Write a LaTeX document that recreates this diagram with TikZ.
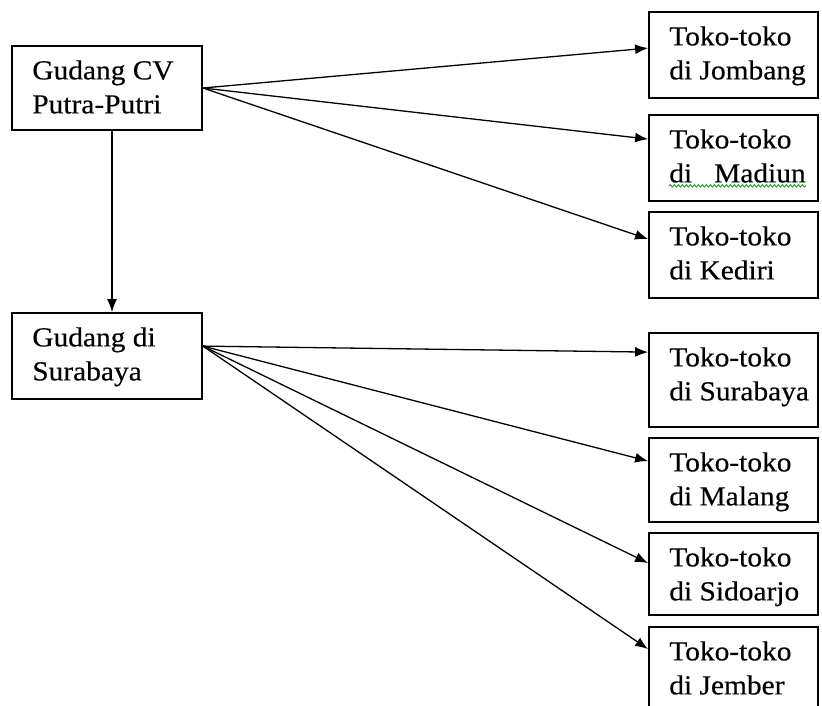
\documentclass[tikz,border=0pt]{standalone}
\usepackage{fontspec}
\setmainfont[FakeStretch=1.07,FakeBold=0.4]{Liberation Serif}
\usetikzlibrary{arrows.meta,decorations.pathmorphing,calc}
\begin{document}
\begin{tikzpicture}[x=1pt,y=-1pt,
  box/.style={draw=black,line width=1.8pt,rectangle},
  txt/.style={anchor=north west,inner sep=0pt,align=left,
    font=\fontsize{27.5}{34}\selectfont},
  flow/.style={line width=1.3pt,-{Latex[length=13pt,width=10pt]}}]
\clip (0,0) rectangle (822,705);
\fill[white] (0,0) rectangle (822,705);
% boxes (pixel grid, y downwards)
\node[box,minimum width=190pt,minimum height=84pt] (g1) at (107,88) {};
\node[box,minimum width=190pt,minimum height=86pt] (g2) at (107,356) {};
\node[box,minimum width=169pt,minimum height=86pt] (jombang) at (733.5,55) {};
\node[box,minimum width=169pt,minimum height=86pt] (madiun) at (733.5,158) {};
\node[box,minimum width=169pt,minimum height=86pt] (kediri) at (733.5,255) {};
\node[box,minimum width=169pt,minimum height=94pt] (sby) at (733.5,380) {};
\node[box,minimum width=169pt,minimum height=84pt] (malang) at (733.5,480) {};
\node[box,minimum width=169pt,minimum height=82pt] (sidoarjo) at (733.5,574) {};
\node[box,minimum width=169pt,minimum height=90pt] (jember) at (733.5,672) {};
% labels
\node[txt] (tg1) at ($(g1.north west)+(21,15)$) {Gudang CV\\Putra-Putri};
\node[txt] (tg2) at ($(g2.north west)+(21,15)$) {Gudang di\\Surabaya};
\node[txt] (tjombang) at ($(jombang.north west)+(21,15)$) {Toko-toko\\di Jombang};
\node[txt] (tmadiun) at ($(madiun.north west)+(21,15)$) {Toko-toko\\di\hspace{0.8em}Madiun};
\node[txt] (tkediri) at ($(kediri.north west)+(21,15)$) {Toko-toko\\di Kediri};
\node[txt] (tsby) at ($(sby.north west)+(21,15)$) {Toko-toko\\di Surabaya};
\node[txt] (tmalang) at ($(malang.north west)+(21,15)$) {Toko-toko\\di Malang};
\node[txt] (tsidoarjo) at ($(sidoarjo.north west)+(21,15)$) {Toko-toko\\di Sidoarjo};
\node[txt] (tjember) at ($(jember.north west)+(21,15)$) {Toko-toko\\di Jember};
% spell-check underline
\draw[green!60!black,line width=0.8pt,decorate,
  decoration={snake,amplitude=1.2pt,segment length=4pt}]
  ($(tmadiun.south west)+(0,3)$) -- ($(tmadiun.south east)+(0,3)$);
% connector anchors
\coordinate (s1) at (g1.east);
\coordinate (s2) at ($(g2.north east)+(0,34)$);
\coordinate (v) at (112,0);
% connectors
\draw[flow] (g1.south -| v) -- (g2.north -| v);
\draw[flow] (s1) -- ($(jombang.north west)+(0,37)$);
\draw[flow] (s1) -- ($(madiun.north west)+(0,25)$);
\draw[flow] (s1) -- ($(kediri.north west)+(0,28)$);
\draw[flow] (s2) -- ($(sby.north west)+(0,20)$);
\draw[flow] (s2) -- ($(malang.north west)+(0,24)$);
\draw[flow] (s2) -- ($(sidoarjo.north west)+(0,31)$);
\draw[flow] (s2) -- ($(jember.north west)+(0,23)$);
\end{tikzpicture}
\end{document}
